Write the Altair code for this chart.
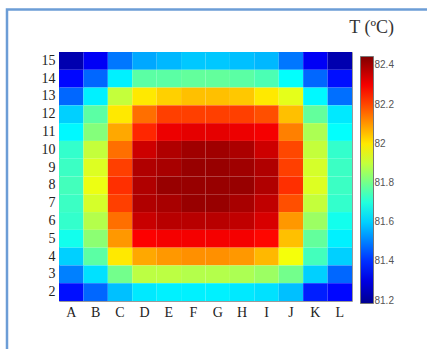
import altair as alt
import pandas as pd

columns = list("ABCDEFGHIJKL")
rows = [15, 14, 13, 12, 11, 10, 9, 8, 7, 6, 5, 4, 3, 2]

t15 = [81.23, 81.33, 81.49, 81.55, 81.57, 81.59, 81.59, 81.58, 81.57, 81.49, 81.33, 81.23]
t14 = [81.35, 81.47, 81.64, 81.77, 81.77, 81.78, 81.78, 81.77, 81.75, 81.66, 81.47, 81.36]
t13 = [81.47, 81.64, 81.90, 82.00, 82.03, 82.05, 82.05, 82.04, 82.00, 81.94, 81.65, 81.48]
t12 = [81.60, 81.77, 82.00, 82.15, 82.21, 82.21, 82.21, 82.21, 82.19, 82.05, 81.78, 81.63]
t11 = [81.65, 81.82, 82.08, 82.24, 82.31, 82.32, 82.32, 82.31, 82.30, 82.13, 81.87, 81.66]
t10 = [81.72, 81.90, 82.15, 82.35, 82.385, 82.405, 82.405, 82.39, 82.35, 82.20, 81.90, 81.72]
t9 = [81.73, 81.93, 82.21, 82.385, 82.395, 82.415, 82.415, 82.405, 82.385, 82.21, 81.92, 81.73]
t8 = [81.74, 81.95, 82.23, 82.385, 82.415, 82.415, 82.415, 82.415, 82.385, 82.23, 81.93, 81.73]
t7 = [81.73, 81.92, 82.21, 82.385, 82.395, 82.415, 82.415, 82.395, 82.366, 82.19, 81.90, 81.72]
t6 = [81.72, 81.88, 82.15, 82.356, 82.376, 82.376, 82.376, 82.366, 82.336, 82.10, 81.85, 81.68]
t5 = [81.68, 81.83, 82.10, 82.29, 82.30, 82.30, 82.30, 82.30, 82.28, 82.05, 81.78, 81.64]
t4 = [81.60, 81.77, 82.00, 82.08, 82.10, 82.11, 82.11, 82.10, 82.06, 81.96, 81.74, 81.60]
t3 = [81.50, 81.62, 81.80, 81.89, 81.89, 81.88, 81.88, 81.87, 81.85, 81.80, 81.60, 81.47]
t2 = [81.36, 81.47, 81.58, 81.63, 81.64, 81.64, 81.64, 81.63, 81.62, 81.58, 81.38, 81.35]

row_values = [t15, t14, t13, t12, t11, t10, t9, t8, t7, t6, t5, t4, t3, t2]
legend_ticks = [81.2, 81.4, 81.6, 81.8, 82.0, 82.2, 82.4]
title_text = "T (ºC)"

records = []
for r, vals in zip(rows, row_values):
    for c, v in zip(columns, vals):
        records.append({"col": c, "row": r, "T": v})
df = pd.DataFrame(records)

# jet colormap, piecewise
lo, hi = 81.185, 82.445
fracs = [0, 1 / 8, 3 / 8, 5 / 8, 7 / 8, 1]
jet = ["#00008f", "#0000ff", "#00ffff", "#ffff00", "#ff0000", "#800000"]
dom = [lo + f * (hi - lo) for f in fracs]

W, H = 293, 249
PL, PT = 59, 52

heat = alt.Chart(df).mark_rect().encode(
    x=alt.X("col:O", sort=columns,
            scale=alt.Scale(paddingInner=0, paddingOuter=0),
            axis=alt.Axis(title=None, labelAngle=0, ticks=False, domain=False,
                          labelFont="Liberation Serif", labelFontSize=14,
                          labelColor="#222", labelPadding=4)),
    y=alt.Y("row:O", sort=rows,
            scale=alt.Scale(paddingInner=0, paddingOuter=0),
            axis=alt.Axis(title=None, ticks=False, domain=False,
                          labelFont="Liberation Serif", labelFontSize=14,
                          labelColor="#222", labelPadding=4)),
    color=alt.Color("T:Q",
                    scale=alt.Scale(domain=dom, range=jet, interpolate="rgb"),
                    legend=alt.Legend(title=None, orient="none",
                                      legendX=301.5, legendY=4.5,
                                      direction="vertical",
                                      gradientLength=247, gradientThickness=13,
                                      gradientStrokeColor="#777",
                                      gradientStrokeWidth=1,
                                      values=legend_ticks, format="~g",
                                      labelFont="Liberation Sans",
                                      labelFontSize=10, labelColor="#555",
                                      labelOffset=1, labelOverlap=False)),
)

frame = alt.Chart(pd.DataFrame({"k": [0]})).mark_rect(
    filled=False, stroke="#6c9dd6", strokeWidth=2.5
).encode(
    x=alt.value(7 - PL), x2=alt.value(440 - PL),
    y=alt.value(9.5 - PT), y2=alt.value(360 - PT),
)

title = alt.Chart(pd.DataFrame({"t": [title_text]})).mark_text(
    font="Liberation Serif", fontSize=18, align="right",
    baseline="alphabetic", color="#333"
).encode(
    text="t:N",
    x=alt.value(394 - PL), y=alt.value(32.5 - PT),
)

chart = alt.layer(frame, heat, title).properties(
    width=W, height=H,
    autosize=alt.AutoSizeParams(type="none"),
    padding={"left": PL, "top": PT, "right": 427 - PL - W, "bottom": 349 - PT - H},
    background="white",
).configure_view(stroke="#999", strokeWidth=1)

chart.save("out.html", embed_options={"renderer": "svg", "actions": False})
